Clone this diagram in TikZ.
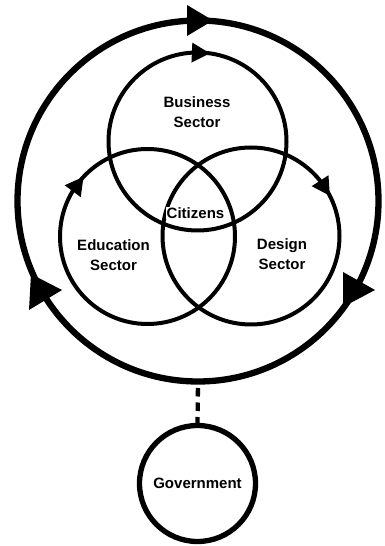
\documentclass[tikz,border=0pt]{standalone}
\usepackage{fontspec}
\setmainfont{Liberation Sans}
\begin{document}
\begin{tikzpicture}[x=1pt,y=1pt,
  ringnode/.style={draw, circle, inner sep=0pt, outer sep=0pt},
  lbl/.style={font=\bfseries\fontsize{15}{20}\selectfont, align=center, inner sep=0pt},
  tipfill/.style={fill=black, draw=none}]
\useasboundingbox (0,0) rectangle (385,546);
% circles
\node[ringnode, line width=6.3pt, minimum size=361pt] (outer) at (198,345) {};
\node[ringnode, line width=4pt, minimum size=178pt] (biz) at (197.5,404.5) {};
\node[ringnode, line width=4pt, minimum size=175pt] (edu) at (147.5,309.5) {};
\node[ringnode, line width=4pt, minimum size=177pt] (des) at (251,310) {};
\node[ringnode, line width=5.3pt, minimum size=116pt, font=\bfseries\fontsize{15}{20}\selectfont] (gov) at (197.5,62.5) {Government};
% dashed connector
\draw[line width=4.3pt, dash pattern=on 8.5pt off 6pt] (gov.north) -- (outer.south);
% outer arrows
\fill[tipfill] (187,541) -- (213,525.5) -- (187,510) -- cycle;
\fill[tipfill] (31,272) -- (62,256) -- (29,236) -- cycle;
\fill[tipfill] (343,274) -- (375,256) -- (343,239) -- cycle;
% inner arrows
\fill[tipfill, shift={(biz.82)}, rotate=-2.5] (0,0) -- (-18,10) -- (-18,-10) -- cycle;
\fill[tipfill, shift={(edu.137.7)}, rotate=53.2] (0,0) -- (-18,10) -- (-18,-10) -- cycle;
\fill[tipfill, shift={(des.27.4)}, rotate=-57.1] (0,0) -- (-18,10) -- (-18,-10) -- cycle;
% labels
\node[lbl] (bizlbl) at (197,433.7) {Business\\Sector};
\node[lbl] (edulbl) at (113.5,291) {Education\\Sector};
\node[lbl] (deslbl) at (282,292.2) {Design\\Sector};
\node[lbl, fill=white, inner sep=0.8pt] (cit) at (195.5,333) {Citizens};
\end{tikzpicture}
\end{document}
